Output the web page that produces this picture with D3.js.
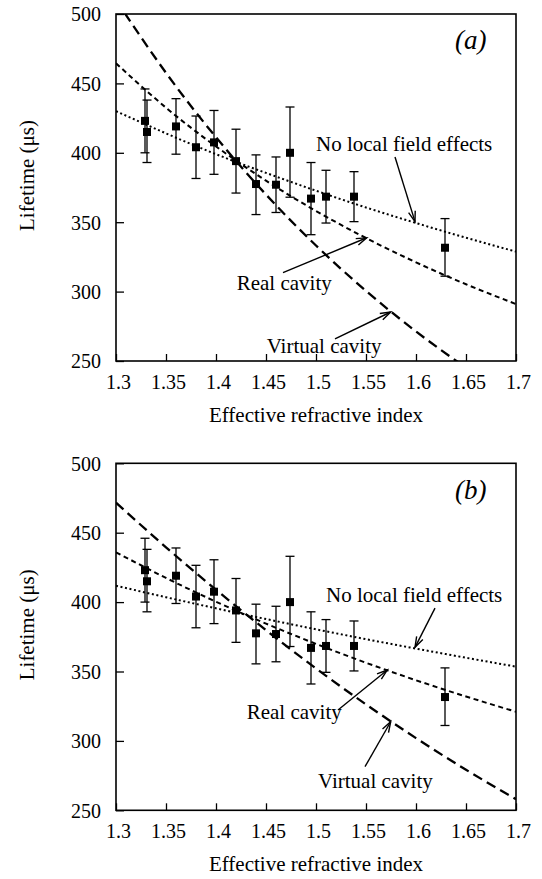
<!DOCTYPE html>
<html><head><meta charset="utf-8">
<script src="https://cdn.jsdelivr.net/npm/d3@7"></script>
<style>
body{margin:0;background:#fff}
svg{display:block}
text{font-family:"Liberation Serif","Times New Roman",serif;fill:#000}
</style>
</head><body>
<svg id="chart" width="542" height="879"></svg>
<script>
// ---- measured data (same in both panels) ----
const refIndex = [1.329, 1.331, 1.36, 1.38, 1.398, 1.42, 1.44, 1.46, 1.474, 1.495, 1.51, 1.538, 1.629];
const lifetime = [423, 415, 419, 404, 407.5, 394, 377.5, 377, 400, 367, 368.4, 368.4, 331.6];
const errUp    = [23, 23, 20, 22.5, 23, 23, 21, 20, 33, 26, 19, 18, 21];
const errDown  = [23, 22, 20, 22.5, 23, 23, 22, 20, 32, 26, 19, 18, 20.5];

// ---- model curves ----
const curveIndex = [1.30, 1.35, 1.40, 1.45, 1.50, 1.55, 1.60, 1.65, 1.70];
const noLocalA = [430.0, 414.0, 399.0, 385.5, 372.7, 360.6, 349.4, 338.8, 328.8];
const realCavA = [464.5, 432.5, 404.6, 379.9, 358.1, 338.6, 321.1, 305.3, 291.0];
const virtCavA = [510.0, 457.6, 411.2, 369.9, 333.2, 300.5, 271.3, 245.3, 222.1];
const noLocalB = [411.8, 403.5, 395.5, 387.8, 380.4, 373.3, 366.5, 359.9, 353.5];
const realCavB = [435.9, 417.4, 400.3, 384.5, 369.9, 356.3, 343.7, 332.0, 321.0];
const virtCavB = [471.6, 439.5, 408.9, 379.8, 352.2, 326.3, 302.0, 279.2, 258.0];

// ---- axes ----
const xTicks = [1.3, 1.35, 1.4, 1.45, 1.5, 1.55, 1.6, 1.65, 1.7];
const xTickLabels = ["1.3", "1.35", "1.4", "1.45", "1.5", "1.55", "1.6", "1.65", "1.7"];
const yTicks = [250, 300, 350, 400, 450, 500];
const yTickLabels = ["250", "300", "350", "400", "450", "500"];
const xTitle = "Effective refractive index";
const yTitle = "Lifetime (\u03bcs)";

// ---- annotation texts ----
const labelNoLocal = "No local field effects";
const labelReal = "Real cavity";
const labelVirtual = "Virtual cavity";

const panels = [
  { tag: "(a)", top: 14, curves: [noLocalA, realCavA, virtCavA],
    notes: [
      { text: labelNoLocal, at: [1.500, 401.3], tail: [1.579, 397.0], tip: [1.599, 350.4] },
      { text: labelReal,    at: [1.4207, 301.2], tail: [1.467, 313.6], tip: [1.5507, 338.8] },
      { text: labelVirtual, at: [1.4507, 255.6], tail: [1.519, 265.9], tip: [1.5747, 285.3] }
    ],
    tagAt: [1.639, 475.0] },
  { tag: "(b)", top: 463.3, curves: [noLocalB, realCavB, virtCavB],
    notes: [
      { text: labelNoLocal, at: [1.510, 400.3], tail: [1.619, 395.7], tip: [1.599, 367.4] },
      { text: labelReal,    at: [1.4307, 315.6], tail: [1.522, 322.3], tip: [1.5713, 351.1] },
      { text: labelVirtual, at: [1.502, 265.9], tail: [1.549, 281.4], tip: [1.5747, 313.8] }
    ],
    tagAt: [1.639, 474.0] }
];

const styles = [
  { dash: "2,2.6", width: 2.0 },   // no local field effects (dotted)
  { dash: "5,3.6", width: 2.0 },   // real cavity (short dash)
  { dash: "10,5.5", width: 2.3 }   // virtual cavity (long dash)
];

const svg = d3.select("#chart");
const left = 116, width = 400, height = 347;

panels.forEach((p, pi) => {
  const g = svg.append("g").attr("transform", `translate(${left},${p.top})`);
  const x = d3.scaleLinear().domain([1.3, 1.7]).range([0, width]);
  const y = d3.scaleLinear().domain([250, 500]).range([height, 0]);

  const clipId = "clip" + pi;
  g.append("clipPath").attr("id", clipId).append("rect")
    .attr("x", 0).attr("y", 0).attr("width", width).attr("height", height);

  // axes
  const yAxis = d3.axisLeft(y).tickValues(yTicks).tickSize(-8).tickPadding(15)
    .tickFormat((d, i) => yTickLabels[i]);
  const ya = g.append("g").call(yAxis);
  ya.select(".domain").remove();
  ya.selectAll("line").attr("stroke", "#000").attr("stroke-width", 1.3);
  ya.selectAll("text").attr("font-size", 20).attr("font-family", "Liberation Serif").attr("dy", "0.34em");

  const xAxis = d3.axisBottom(x).tickValues(xTicks).tickSize(-7).tickPadding(14)
    .tickFormat((d, i) => xTickLabels[i]);
  const xa = g.append("g").attr("transform", `translate(0,${height})`).call(xAxis);
  xa.select(".domain").remove();
  xa.selectAll("line").attr("stroke", "#000").attr("stroke-width", 1.3);
  xa.selectAll("text").attr("font-size", 20).attr("font-family", "Liberation Serif").attr("dx", 2);

  g.append("rect").attr("x", 0).attr("y", 0).attr("width", width).attr("height", height)
    .attr("fill", "none").attr("stroke", "#000").attr("stroke-width", 1.6);

  // axis titles
  g.append("text").attr("x", width / 2).attr("y", height + 61)
    .attr("text-anchor", "middle").attr("font-size", 21).text(xTitle);
  g.append("text").attr("transform", `translate(${34 - left},${height / 2 - 12}) rotate(-90)`)
    .attr("text-anchor", "middle").attr("font-size", 21).text(yTitle);

  // curves
  const line = d3.line().x(d => x(d[0])).y(d => y(d[1])).curve(d3.curveNatural);
  const cg = g.append("g").attr("clip-path", `url(#${clipId})`);
  p.curves.forEach((vals, ci) => {
    cg.append("path").datum(curveIndex.map((n, i) => [n, vals[i]]))
      .attr("d", line).attr("fill", "none").attr("stroke", "#000")
      .attr("stroke-width", styles[ci].width).attr("stroke-dasharray", styles[ci].dash);
  });

  // error bars + markers
  const pts = refIndex.map((n, i) => ({ n, t: lifetime[i], up: errUp[i], dn: errDown[i] }));
  const eb = g.append("g").attr("stroke", "#000").attr("stroke-width", 1.3);
  pts.forEach(d => {
    const cx = x(d.n), y1 = y(d.t + d.up), y2 = y(d.t - d.dn);
    eb.append("line").attr("x1", cx).attr("x2", cx).attr("y1", y1).attr("y2", y2);
    eb.append("line").attr("x1", cx - 4.5).attr("x2", cx + 4.5).attr("y1", y1).attr("y2", y1);
    eb.append("line").attr("x1", cx - 4.5).attr("x2", cx + 4.5).attr("y1", y2).attr("y2", y2);
  });
  g.append("g").selectAll("rect").data(pts).join("rect")
    .attr("x", d => x(d.n) - 4).attr("y", d => y(d.t) - 4)
    .attr("width", 8).attr("height", 8).attr("fill", "#000");

  // annotations
  p.notes.forEach(a => {
    g.append("text").attr("x", x(a.at[0])).attr("y", y(a.at[1]))
      .attr("font-size", 21).text(a.text);
    const x1 = x(a.tail[0]), y1 = y(a.tail[1]), x2 = x(a.tip[0]), y2 = y(a.tip[1]);
    const ang = Math.atan2(y2 - y1, x2 - x1), L = 11, h = 0.32;
    g.append("line").attr("x1", x1).attr("y1", y1).attr("x2", x2).attr("y2", y2)
      .attr("stroke", "#000").attr("stroke-width", 1.4);
    const b1 = [x2 - L * Math.cos(ang - h), y2 - L * Math.sin(ang - h)];
    const b2 = [x2 - L * Math.cos(ang + h), y2 - L * Math.sin(ang + h)];
    g.append("path").attr("d", `M${b1[0]},${b1[1]}L${x2},${y2}L${b2[0]},${b2[1]}`)
      .attr("fill", "none").attr("stroke", "#000").attr("stroke-width", 1.4);
  });

  g.append("text").attr("x", x(p.tagAt[0])).attr("y", y(p.tagAt[1]))
    .attr("font-size", 27).attr("font-style", "italic").text(p.tag);
});
</script>
</body></html>
